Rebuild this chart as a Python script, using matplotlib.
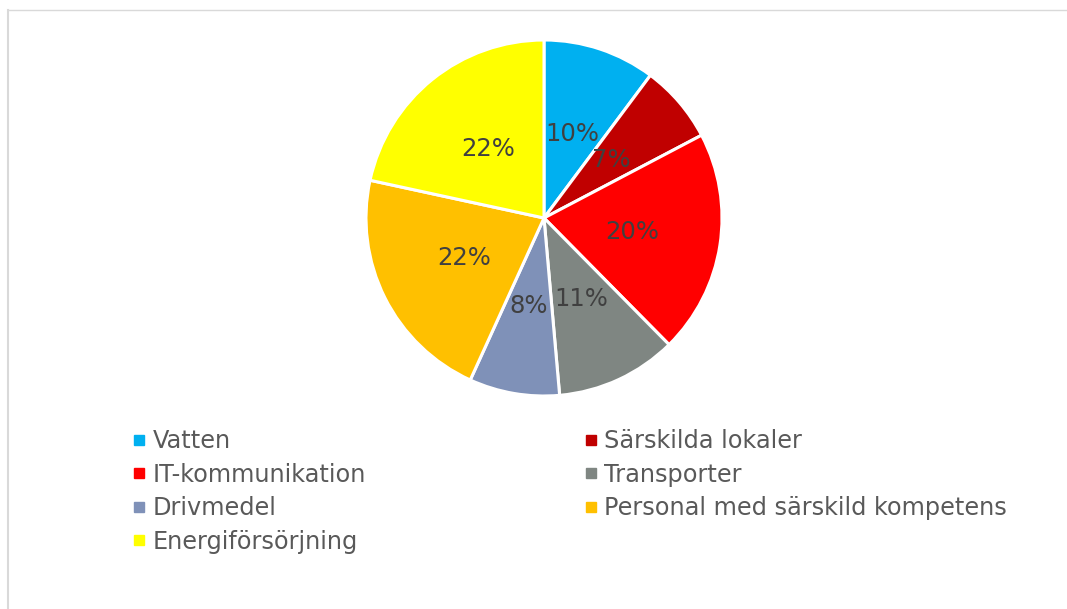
import matplotlib.pyplot as plt
from matplotlib.lines import Line2D

# data
categories = ['Vatten', 'Särskilda lokaler', 'IT-kommunikation', 'Transporter',
              'Drivmedel', 'Personal med särskild kompetens', 'Energiförsörjning']
shares = [10.2, 7.1, 20.3, 11.0, 8.2, 21.6, 21.6]
colors = ['#00B0F0', '#C00000', '#FF0000', '#7F8682', '#7F91B8', '#FFC000', '#FFFF00']

W, H = 1067, 609
fig = plt.figure(figsize=(W / 100, H / 100), dpi=100)

# light border of the chart area
fig.add_artist(Line2D([8 / W, 8 / W], [0, 1 - 10 / H], color='#d9d9d9', lw=1.5))
fig.add_artist(Line2D([8 / W, 1], [1 - 10 / H, 1 - 10 / H], color='#d9d9d9', lw=1.0))

# pie axes: centre (544, 218) px, radius 178 px
cx, cy, r = 544, 218, 178
ax = fig.add_axes([(cx - r) / W, (H - cy - r) / H, 2 * r / W, 2 * r / H])
wedges, texts, autotexts = ax.pie(
    shares, colors=colors, startangle=90, counterclock=False,
    autopct=lambda p: f'{p:.0f}%', pctdistance=0.5,
    wedgeprops=dict(edgecolor='white', linewidth=2.2),
    textprops=dict(fontsize=17.5, color='#404040'))
ax.set_xlim(-1, 1)
ax.set_ylim(-1, 1)
ax.set_aspect('equal')
for w in wedges:
    w.set_clip_on(False)

# legend in two columns, filled row by row
def handle(c):
    return Line2D([], [], marker='s', linestyle='none', markersize=7,
                  markerfacecolor=c, markeredgecolor=c)

left = [0, 2, 4, 6]
right = [1, 3, 5]
common = dict(frameon=False, fontsize=17.3, labelcolor='#595959', handlelength=0.55,
              handletextpad=0.3, labelspacing=0.4, borderpad=0, borderaxespad=0,
              loc='upper left')
fig.legend([handle(colors[i]) for i in left], [categories[i] for i in left],
           bbox_to_anchor=(132 / W, 1 - 429 / H), **common)
fig.legend([handle(colors[i]) for i in right], [categories[i] for i in right],
           bbox_to_anchor=(584 / W, 1 - 429 / H), **common)

fig.savefig('out.png', dpi=100)
